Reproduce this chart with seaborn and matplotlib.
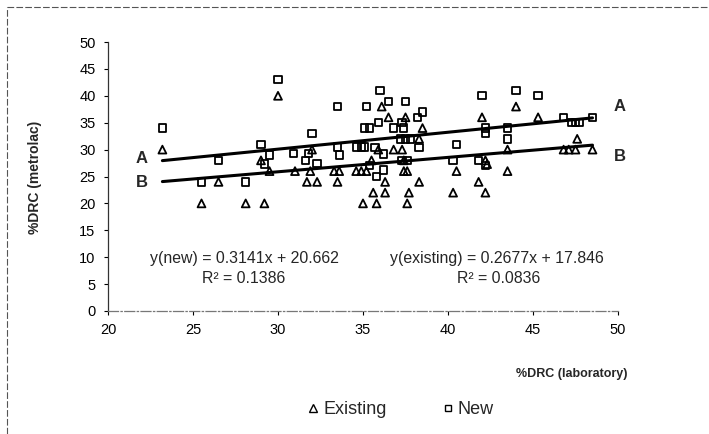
import numpy as np
import pandas as pd
import matplotlib
matplotlib.use("Agg")
import matplotlib.pyplot as plt
from matplotlib.lines import Line2D
import seaborn as sns

# ---- data ----
existing_lab = [23.2, 25.5, 26.5, 28.1, 29.2, 29.0, 29.5, 30.0, 31.0, 32.0, 31.9, 31.7, 32.3,
                33.3, 33.6, 33.5, 34.6, 34.9, 35.2, 35.0, 35.5, 35.6, 35.8, 35.9, 36.1, 36.3,
                36.3, 36.5, 36.8, 37.3, 37.4, 37.6, 37.4, 37.5, 37.6, 37.7, 38.3, 38.3, 38.5,
                40.3, 40.5, 41.8, 42.0, 42.2, 42.3, 42.2, 43.5, 43.5, 44.0, 45.3, 46.8, 47.1,
                47.5, 47.6, 48.5]
existing_met = [30, 20, 24, 20, 20, 28, 26, 40, 26, 30, 26, 24, 24,
                26, 26, 24, 26, 26, 26, 20, 28, 22, 20, 30, 38, 24,
                22, 36, 30, 30, 26, 26, 28, 36, 20, 22, 32, 24, 34,
                22, 26, 24, 36, 28, 27.3, 22, 30, 26, 38, 36, 30, 30,
                30, 32, 30]
new_lab = [23.2, 25.5, 26.5, 28.1, 29.0, 29.5, 29.2, 30.0, 30.9, 31.6, 31.8, 32.0, 32.3,
           33.5, 33.5, 33.6, 34.6, 34.9, 35.1, 35.2, 35.1, 35.4, 35.4, 35.7, 35.8, 35.9,
           36.0, 36.2, 36.2, 36.5, 36.8, 37.2, 37.5, 37.8, 37.3, 37.4, 37.5, 37.3, 37.6,
           38.2, 38.5, 38.3, 40.3, 40.5, 41.8, 42.0, 42.2, 42.2, 42.2, 43.5, 43.5, 44.0,
           45.3, 46.8, 47.3, 47.5, 47.7, 48.5]
new_met = [34, 24, 28, 24, 31, 29, 27.3, 43, 29.3, 28, 29.3, 33, 27.4,
           38, 30.5, 29, 30.5, 30.5, 30.5, 38, 34, 34, 27, 30.4, 25, 35,
           41, 29.2, 26.2, 39, 34, 32, 32, 32, 35, 34, 39, 28, 28,
           36, 37, 30.4, 28, 31, 28, 40, 34, 33, 27, 34, 32, 41,
           40, 36, 35, 35, 35, 36]

# trendline coefficients (from the chart's equations)
new_slope, new_icpt, new_r2 = 0.3141, 20.662, 0.1386
ex_slope, ex_icpt, ex_r2 = 0.2677, 17.846, 0.0836

x_ticks = [20, 25, 30, 35, 40, 45, 50]
y_ticks = [0, 5, 10, 15, 20, 25, 30, 35, 40, 45, 50]

df = pd.DataFrame({
    "lab": existing_lab + new_lab,
    "met": existing_met + new_met,
    "type": ["Existing"] * len(existing_lab) + ["New"] * len(new_lab),
})

sns.set_style("white")
plt.rcParams["font.family"] = ["Liberation Sans", "DejaVu Sans"]

fig = plt.figure(figsize=(7.09, 4.34), dpi=100)
ax = fig.add_axes([108 / 709, 1 - 311 / 434, 510 / 709, 269 / 434])

for t, m in [("Existing", "^"), ("New", "s")]:
    sub = df[df["type"] == t]
    ax.scatter(sub["lab"], sub["met"], marker=m, s=32 if m == "^" else 28,
               facecolors="none", edgecolors="black", linewidths=1.3, zorder=3)

# trendlines over the data range
xn = np.array([min(new_lab), max(new_lab)])
xe = np.array([min(existing_lab), max(existing_lab)])
sns.lineplot(x=xn, y=new_slope * xn + new_icpt, ax=ax, color="black", lw=2.2, zorder=4)
sns.lineplot(x=xe, y=ex_slope * xe + ex_icpt, ax=ax, color="black", lw=2.2, zorder=4)

ax.set_xlim(20, 50)
ax.set_ylim(0, 50)
ax.set_xticks(x_ticks)
ax.set_yticks(y_ticks)
ax.tick_params(axis="both", labelsize=10.5, length=3, width=0.8, direction="out",
               colors="black", pad=6, bottom=True, left=True)
ax.set_xlabel("")
ax.set_ylabel("")
for s in ["top", "right"]:
    ax.spines[s].set_visible(False)
ax.spines["left"].set_color("#333333")
ax.spines["left"].set_linewidth(0.9)
ax.spines["bottom"].set_color("#777777")
ax.spines["bottom"].set_linewidth(0.9)
ax.spines["bottom"].set_linestyle((0, (8, 2, 1, 2)))

# A / B labels
lab_kw = dict(fontsize=12, fontweight="bold", ha="center", va="center", clip_on=False)
ax.text(22.0, 28.4, "A", **lab_kw)
ax.text(22.0, 23.9, "B", **lab_kw)
ax.text(50.1, 38.0, "A", **lab_kw)
ax.text(50.1, 28.7, "B", **lab_kw)

# equations
eq_kw = dict(fontsize=11.4, ha="center", va="center")
ax.text(28.0, 9.8, f"y(new) = {new_slope}x + {new_icpt}", **eq_kw)
ax.text(28.0, 6.1, f"R\u00b2 = {new_r2}", **eq_kw)
ax.text(42.9, 9.8, f"y(existing) = {ex_slope}x + {ex_icpt}", **eq_kw)
ax.text(43.0, 6.1, f"R\u00b2 = {ex_r2}", **eq_kw)

# axis titles
fig.text(35 / 709, 1 - 177 / 434, "%DRC (metrolac)", rotation=90, fontsize=10,
         fontweight="bold", ha="center", va="center")
fig.text(628 / 709, 1 - 374 / 434, "%DRC (laboratory)", fontsize=9,
         fontweight="bold", ha="right", va="center")

# legend
handles = [Line2D([], [], marker="^", ls="none", mfc="none", mec="black", ms=6, mew=1.0),
           Line2D([], [], marker="s", ls="none", mfc="none", mec="black", ms=5, mew=1.0)]
fig.legend(handles, ["Existing", "New"], loc="center", bbox_to_anchor=(400 / 709, 1 - 410 / 434),
           ncol=2, frameon=False, fontsize=13, handletextpad=0.15, columnspacing=3.0,
           handlelength=0.8)

# dashed outer border (top and left)
fig.add_artist(Line2D([7 / 709, 7 / 709], [0, 1 - 7 / 434], color="#555555", lw=0.8,
                      ls=(0, (6, 2)), transform=fig.transFigure))
fig.add_artist(Line2D([7 / 709, 1], [1 - 7 / 434, 1 - 7 / 434], color="#555555", lw=0.8,
                      ls=(0, (6, 2)), transform=fig.transFigure))

fig.savefig("out.png", dpi=100)
